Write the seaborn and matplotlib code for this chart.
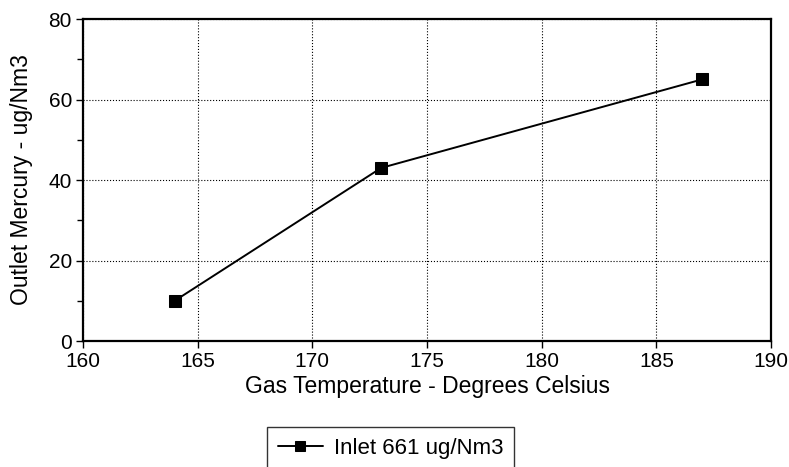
import matplotlib
matplotlib.use("Agg")
import matplotlib.pyplot as plt
import seaborn as sns
import pandas as pd

temperature = [164, 173, 187]
outlet_mercury = [10, 43, 65]
series_label = "Inlet 661 ug/Nm3"

sns.set_theme(style="white")
plt.rcParams['font.family'] = ['Liberation Sans', 'DejaVu Sans']

df = pd.DataFrame({"x": temperature, "y": outlet_mercury, "s": series_label})

fig = plt.figure(figsize=(7.89, 4.67), dpi=100)
ax = fig.add_axes([0.1052, 0.2698, 0.872, 0.6895])

sns.lineplot(data=df, x="x", y="y", hue="s", palette=["black"], marker="s",
             markersize=9, linewidth=1.4, markeredgecolor="black", ax=ax, legend=True)

ax.set_xlim(160, 190)
ax.set_ylim(0, 80)
ax.set_xticks(range(160, 191, 5))
ax.set_yticks(range(0, 81, 20))
ax.set_yticks(range(10, 80, 20), minor=True)
ax.tick_params(axis="both", which="major", labelsize=15, length=5, width=1, color="black",
               direction="out", pad=3, labelcolor="black")
ax.tick_params(axis="y", which="minor", length=4, width=1, color="black", left=True)
ax.tick_params(axis="x", bottom=True)
ax.tick_params(axis="y", left=True)
ax.grid(True, which="major", linestyle=":", color="black", linewidth=0.8)
for sp in ax.spines.values():
    sp.set_color("black")
    sp.set_linewidth(1.6)

ax.set_xlabel("Gas Temperature - Degrees Celsius", fontsize=16.5, color="black", labelpad=3)
ax.set_ylabel("Outlet Mercury - ug/Nm3", fontsize=16.5, color="black", labelpad=11)

leg = ax.legend(loc="upper left", bbox_to_anchor=(0.3384, 0.0857), bbox_transform=fig.transFigure,
                frameon=True, fancybox=False, edgecolor="black", fontsize=16,
                handlelength=2.0, handletextpad=0.5, borderpad=0.5, borderaxespad=0)
leg.get_frame().set_linewidth(1.0)
for h in leg.legend_handles:
    h.set_markersize(7)
for t in leg.get_texts():
    t.set_color("black")

fig.savefig("out.png", dpi=100)
